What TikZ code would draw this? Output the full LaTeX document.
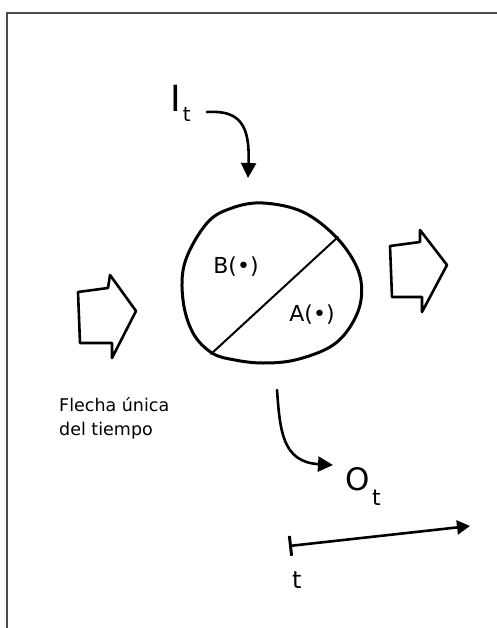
\documentclass[tikz,border=0pt]{standalone}
\usepackage{fontspec}
\setmainfont{DejaVu Sans}
\usetikzlibrary{arrows.meta}
\begin{document}
\begin{tikzpicture}[x=1pt,y=-1pt,
  frame/.style={draw=black!70,line width=1.5pt},
  ink/.style={draw=black,line width=2.6pt,line join=round,line cap=round},
  flow/.style={ink,-{Triangle[length=15pt,width=15pt]}},
  lbl/.style={inner sep=0pt,font=\fontsize{22}{22}\selectfont},
  note/.style={inner sep=0pt,anchor=base west,font=\fontsize{17.5}{17.5}\selectfont}]
\useasboundingbox (0,0) rectangle (497,628);
% frame
\coordinate (f1) at (7,628);
\coordinate (f2) at (7,13);
\coordinate (f3) at (497,13);
\draw[frame] (f1) -- (f2) -- (f3);
% input label and arrow
\node[inner sep=0pt,anchor=base west] (It) at (170.5,111.5)
  {\fontsize{36}{36}\selectfont I\kern1.5pt\raisebox{-10.5pt}{\fontsize{20}{20}\selectfont t}};
\coordinate (itstart) at (207,112);
\coordinate (itend) at (248,178);
\draw[flow] (itstart) .. controls (240,110) and (250,125) .. (itend);
% system (hand-drawn circle)
\draw[ink,line width=3pt] plot[smooth cycle,tension=0.6] coordinates
  {(263,203) (303,212) (337,238) (358,270) (361,300) (350,327) (330,347) (295,360) (263,363) (235,360) (212,353) (193,333) (183,300) (185,262) (207,223) (232,208)};
\coordinate (d1) at (211,354);
\coordinate (d2) at (338,237);
\draw[ink,line width=2pt] (d1) -- (d2);
\node[lbl] (B) at (236,267) {B(•)};
\node[lbl] (A) at (312,315) {A(•)};
% left block arrow
\draw[ink] (80,343) -- (78,292) -- (108,288) -- (110,275) -- (136,311) -- (112,358) -- (112,343) -- cycle;
% right block arrow
\draw[ink] (392,297) -- (390,246) -- (420,242) -- (420,230) -- (447,265) -- (422,312) -- (422,297) -- cycle;
% note
\node[note] (n1) at (59,411) {Flecha única};
\node[note] (n2) at (59,435) {del tiempo};
% output arrow and label
\coordinate (otstart) at (277,390);
\coordinate (otend) at (333,465);
\draw[flow] (otstart) .. controls (280,430) and (282,462) .. (otend);
\node[inner sep=0pt,anchor=base west] (Ot) at (345,490)
  {\fontsize{31}{31}\selectfont O\kern2.5pt\raisebox{-15pt}{\fontsize{22}{22}\selectfont t}};
% time axis
\coordinate (t0) at (289,546);
\coordinate (t1) at (470,526);
\draw[ink,{Bar[width=20pt,line width=3pt]}-{Triangle[length=13pt,width=14pt]}] (t0) -- (t1);
\node[inner sep=0pt,anchor=base west,font=\fontsize{24}{24}\selectfont] (tl) at (292,588) {t};
\end{tikzpicture}
\end{document}
